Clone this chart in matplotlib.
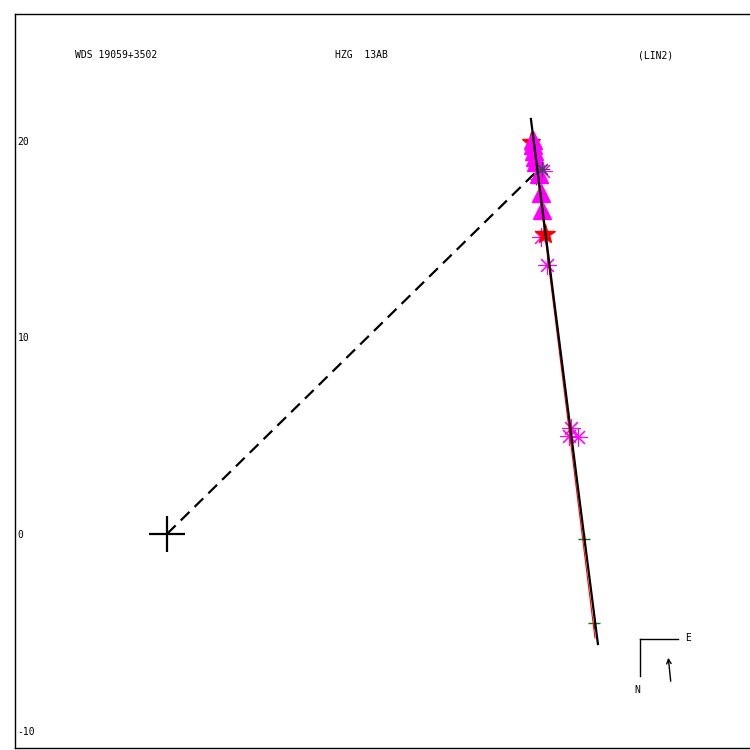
import matplotlib
matplotlib.use('Agg')
import matplotlib.pyplot as plt

# orbit-plot data (arcsec)
primary = (0.0, 0.0)

fit_line_x = [18.52, 21.93]
fit_line_y = [21.12, -5.60]

ephem_line_x = [18.63, 21.78]
ephem_line_y = [20.05, -5.29]

node_x = [0.0, 18.78]
node_y = [0.0, 18.42]

tri_x = [18.62, 18.64, 18.68, 18.72, 18.76, 18.92, 19.03, 19.08]
tri_y = [20.05, 19.80, 19.50, 19.20, 18.95, 18.32, 17.35, 16.50]

star_x = [18.50, 19.24]
star_y = [19.95, 15.27]

ast_x = [19.13, 19.03, 19.34, 20.56, 20.46, 20.92]
ast_y = [18.47, 15.11, 13.69, 5.39, 4.99, 4.94]

dark_ast_x = [19.10]
dark_ast_y = [18.55]

pred_x = [18.78, 21.22, 21.73]
pred_y = [18.05, -0.25, -4.53]

yticks = [20, 10, 0, -10]
header = ['WDS 19059+3502', 'HZG  13AB', '(LIN2)']

fig = plt.figure(figsize=(7.5, 7.5), dpi=100)
ax = fig.add_axes([0.02, 0.00267, 0.99, 0.9787])
ax.set_xlim(-7.73, 30.05)
ax.set_ylim(-10.89, 26.46)

ax.plot(node_x, node_y, color='black', lw=1.6, ls=(0, (5.5, 3.2)), zorder=2)
ax.plot(*primary, marker='+', ms=26, mew=1.6, color='black', zorder=3)

ax.plot(star_x[:1], star_y[:1], '*', ms=14, color='red', zorder=3)
ax.plot(pred_x, pred_y, '+', ms=9, mew=1, color='green', zorder=3)
ax.plot(tri_x, tri_y, '^', ms=13, color='magenta', mec='magenta', zorder=4)
ax.plot(ast_x, ast_y, ls='none', marker=(8, 2, 0), ms=13, mew=0.8, color='magenta', zorder=4)
ax.plot(dark_ast_x, dark_ast_y, ls='none', marker=(8, 2, 0), ms=11, mew=0.8, color='#404060', zorder=4)
ax.plot(star_x[1:], star_y[1:], '*', ms=15, color='red', zorder=4)

ax.plot(ephem_line_x, ephem_line_y, color='red', lw=0.8, zorder=5)
ax.plot(fit_line_x, fit_line_y, color='black', lw=1.6, zorder=6)

ax.set_xticks([])
ax.set_yticks(yticks)
ax.set_yticklabels([str(t) for t in yticks], family='DejaVu Sans Mono', fontsize=7)
ax.tick_params(axis='y', length=0, pad=-2)
for lbl in ax.get_yticklabels():
    lbl.set_horizontalalignment('left')
ax.spines['right'].set_visible(False)
for s in ['left', 'top', 'bottom']:
    ax.spines[s].set_linewidth(1.0)

# header line
fig.text(75 / 750, 1 - 55 / 750, header[0], family='DejaVu Sans Mono', fontsize=7, va='center')
fig.text(335 / 750, 1 - 55 / 750, header[1], family='DejaVu Sans Mono', fontsize=7, va='center')
fig.text(638 / 750, 1 - 55 / 750, header[2], family='DejaVu Sans Mono', fontsize=7, va='center')

# compass and direction of motion
fig.add_artist(plt.Line2D([640 / 750, 678 / 750], [1 - 639 / 750, 1 - 639 / 750], color='black', lw=1))
fig.add_artist(plt.Line2D([640 / 750, 640 / 750], [1 - 639 / 750, 1 - 676 / 750], color='black', lw=1))
fig.text(688 / 750, 1 - 638 / 750, 'E', family='DejaVu Sans Mono', fontsize=7, va='center', ha='center')
fig.text(637 / 750, 1 - 690 / 750, 'N', family='DejaVu Sans Mono', fontsize=7, va='center', ha='center')
fig.add_artist(matplotlib.patches.FancyArrowPatch((671 / 750, 1 - 684 / 750), (668 / 750, 1 - 655 / 750),
                                                  transform=fig.transFigure, arrowstyle='->', mutation_scale=8,
                                                  color='black', lw=1))

fig.savefig('out.png', dpi=100)
